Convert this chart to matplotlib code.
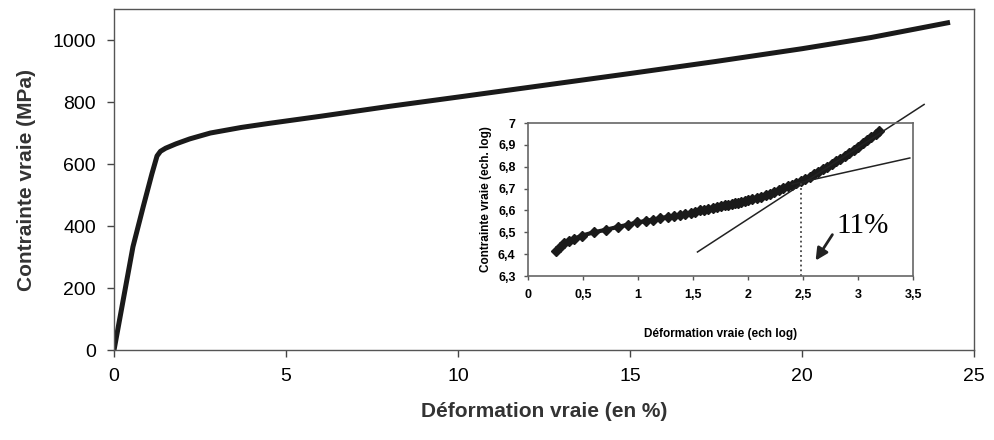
import numpy as np
import matplotlib.pyplot as plt

# main curve: true strain (%) vs true stress (MPa)
strain = [0.0, 0.55, 0.85, 1.1, 1.25, 1.35, 1.5, 1.8, 2.2, 2.8, 3.7, 4.5, 6.0,
          8.0, 10.0, 12.5, 15.0, 17.5, 20.0, 22.0, 24.3]
stress = [0, 333, 463, 568, 626, 641, 651, 665, 681, 700, 718, 731, 754,
          786, 816, 854, 892, 931, 972, 1008, 1057]

# inset: log strain vs log stress
log_eps = [0.25, 0.29, 0.33, 0.37, 0.42, 0.49, 0.6, 0.71, 0.82, 0.91, 0.99, 1.07,
           1.14, 1.2, 1.27, 1.33, 1.38, 1.43, 1.48, 1.52, 1.56, 1.6, 1.64, 1.68,
           1.72, 1.75, 1.79, 1.82, 1.85, 1.88, 1.91, 1.94, 1.97, 2.0, 2.04, 2.08,
           2.12, 2.16, 2.2, 2.24, 2.28, 2.32, 2.36, 2.4, 2.44, 2.48, 2.52, 2.56,
           2.6, 2.64, 2.68, 2.72, 2.76, 2.8, 2.84, 2.88, 2.92, 2.96, 3.0, 3.04,
           3.08, 3.12, 3.16, 3.19]
log_sig = [6.415, 6.435, 6.45, 6.46, 6.47, 6.485, 6.5, 6.512, 6.525, 6.535, 6.545, 6.552,
           6.558, 6.565, 6.57, 6.575, 6.58, 6.585, 6.59, 6.595, 6.6, 6.604, 6.608, 6.612,
           6.616, 6.62, 6.623, 6.626, 6.629, 6.632, 6.635, 6.639, 6.642, 6.646, 6.651, 6.657,
           6.663, 6.67, 6.677, 6.685, 6.693, 6.701, 6.71, 6.718, 6.727, 6.736, 6.745, 6.755,
           6.765, 6.776, 6.788, 6.80, 6.812, 6.824, 6.837, 6.85, 6.864, 6.878, 6.892, 6.907,
           6.922, 6.937, 6.952, 6.965]

# tangent lines and transition point
tan1_x = [1.54, 3.6]
tan1_y = [6.41, 7.085]
tan2_x = [2.4, 3.47]
tan2_y = [6.72, 6.84]
x_trans = 2.48
y_trans = 6.732

x_ticks = [0, 5, 10, 15, 20, 25]
y_ticks = [0, 200, 400, 600, 800, 1000]
in_xticks = [0, 0.5, 1, 1.5, 2, 2.5, 3, 3.5]
in_xlabels = ['0', '0,5', '1', '1,5', '2', '2,5', '3', '3,5']
in_yticks = [6.3, 6.4, 6.5, 6.6, 6.7, 6.8, 6.9, 7.0]
in_ylabels = ['6,3', '6,4', '6,5', '6,6', '6,7', '6,8', '6,9', '7']

plt.rcParams['font.family'] = ['Liberation Sans', 'DejaVu Sans']

fig = plt.figure(figsize=(9.95, 4.4), dpi=100)
ax = fig.add_axes([0.1146, 0.2045, 0.8644, 0.775])
ax.plot(strain, stress, color='#1a1a1a', lw=3.6, solid_capstyle='butt', solid_joinstyle='round')
ax.set_xlim(0, 25)
ax.set_ylim(0, 1100)
ax.set_xticks(x_ticks)
ax.set_yticks(y_ticks)
ax.tick_params(labelsize=14, length=5, width=1, color='#444', pad=8)
for s in ax.spines.values():
    s.set_color('#555')
    s.set_linewidth(1.0)
ax.set_xlabel('Déformation vraie (en %)', fontsize=15, fontweight='bold', color='#333', labelpad=12)
ax.set_ylabel('Contrainte vraie (MPa)', fontsize=15, fontweight='bold', color='#333', labelpad=12)

ins = fig.add_axes([0.5307, 0.3727, 0.387, 0.3477])
ins.set_facecolor('white')
ins.plot(log_eps, log_sig, color='#1a1a1a', lw=3, marker='D', ms=5.5, mfc='#1a1a1a', mec='#1a1a1a')
ins.plot(tan1_x, tan1_y, color='#222', lw=1.1, clip_on=False)
ins.plot(tan2_x, tan2_y, color='#222', lw=1.1, clip_on=False)
ins.plot([x_trans, x_trans], [6.3, y_trans], color='#444', lw=1.3, ls=':')
ins.text(2.8, 6.53, '11%', fontsize=21, family=['Liberation Serif'], ha='left', va='center')
ins.annotate('', xy=(2.6, 6.36), xytext=(2.78, 6.5),
             arrowprops=dict(arrowstyle='-|>', color='#222', lw=2, mutation_scale=18))
ins.set_xlim(0, 3.5)
ins.set_ylim(6.3, 7.0)
ins.set_xticks(in_xticks)
ins.set_xticklabels(in_xlabels, fontweight='bold')
ins.set_yticks(in_yticks)
ins.set_yticklabels(in_ylabels, fontweight='bold')
ins.tick_params(labelsize=9, length=3, width=1, color='#555', pad=6)
for s in ins.spines.values():
    s.set_color('#666')
    s.set_linewidth(1.2)
ins.set_xlabel('Déformation vraie (ech log)', fontsize=8.5, fontweight='bold', labelpad=20)
ins.set_ylabel('Contrainte vraie (ech. log)', fontsize=8.5, fontweight='bold', labelpad=4)

fig.savefig('out.png', dpi=100)
